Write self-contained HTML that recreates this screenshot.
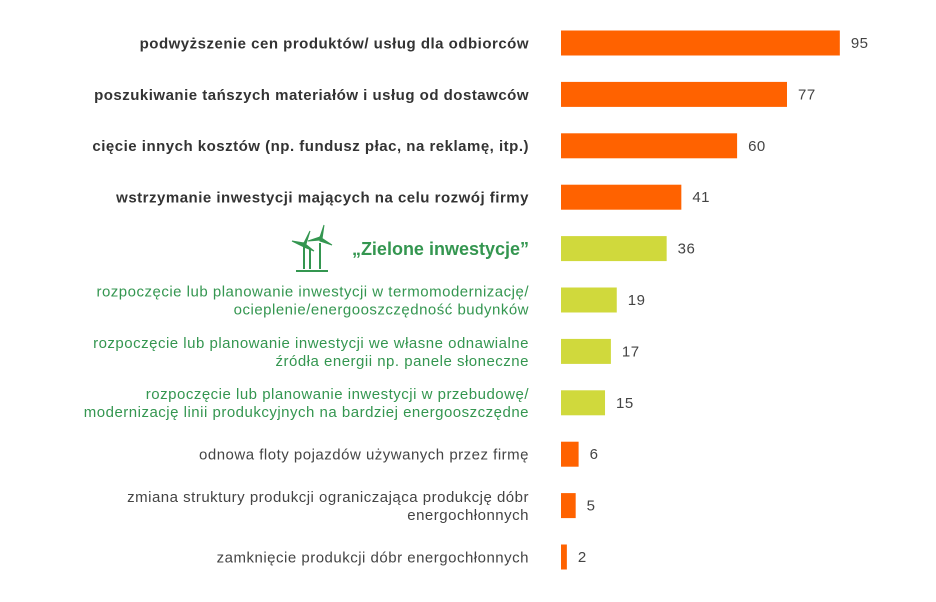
<!DOCTYPE html>
<html><head><meta charset="utf-8"><style>
body{margin:0;background:#fff;width:936px;height:597px;overflow:hidden;font-family:"Liberation Sans",sans-serif}
svg text{font-family:"Liberation Sans",sans-serif}
</style></head><body>
<svg id="chart" width="936" height="597" xmlns="http://www.w3.org/2000/svg">
<g id="icon" transform="translate(312,247)" fill="#349650" stroke="#349650">
<line x1="-8" y1="0" x2="-8" y2="22" stroke-width="2"/><line x1="-2" y1="2" x2="-2" y2="22" stroke-width="2"/><line x1="8" y1="-4" x2="8" y2="22" stroke-width="2"/>
<line x1="-16" y1="24" x2="16" y2="24" stroke-width="2"/>
<path d="M-8 -4 L-20 -6 L-8 0 Z M-8 -4 L-2 -16 L-6 -3 Z M-8 -4 L2 4 L-8 0Z"/>
<path d="M8 -10 L12 -22 L10 -8 Z M8 -10 L20 -2 L8 -6 Z M8 -10 L-4 -6 L8 -7Z"/>
</g>
</svg>
<script>
const categories=["podwyższenie cen produktów/ usług dla odbiorców","poszukiwanie tańszych materiałów i usług od dostawców","cięcie innych kosztów (np. fundusz płac, na reklamę, itp.)","wstrzymanie inwestycji mających na celu rozwój firmy","„Zielone inwestycje”","rozpoczęcie lub planowanie inwestycji w termomodernizację/|ocieplenie/energooszczędność budynków","rozpoczęcie lub planowanie inwestycji we własne odnawialne|źródła energii np. panele słoneczne","rozpoczęcie lub planowanie inwestycji w przebudowę/|modernizację linii produkcyjnych na bardziej energooszczędne","odnowa floty pojazdów używanych przez firmę","zmiana struktury produkcji ograniczająca produkcję dóbr|energochłonnych","zamknięcie produkcji dóbr energochłonnych"];
const values=[95,77,60,41,36,19,17,15,6,5,2];
const groups=["main","main","main","main","green-head","green","green","green","other","other","other"];
const NS="http://www.w3.org/2000/svg",svg=document.getElementById('chart');
const x0=561,k=2.935,y0=43,step=51.4,bh=25;
function xs(v){return v*k;}
function yc(i){return y0+i*step;}
categories.forEach((c,i)=>{
 const g=groups[i],y=yc(i);
 const r=document.createElementNS(NS,'rect');
 
 
 r.setAttribute('x',x0);r.setAttribute('y',y-bh/2);r.setAttribute('width',xs(values[i]));r.setAttribute('height',bh);
 r.setAttribute('fill',g.startsWith('green')?'#D0D93C':'#FF6200');svg.appendChild(r);
 const v=document.createElementNS(NS,'text');
 
 
 v.setAttribute('x',x0+xs(values[i])+11);v.setAttribute('y',y+5);v.setAttribute('font-size','15');v.setAttribute('fill','#444');v.setAttribute('letter-spacing','0.5');
 v.textContent=values[i];svg.appendChild(v);
 const t=document.createElementNS(NS,'text');
 
 
 t.setAttribute('text-anchor','end');
 const lines=c.split('|');
 let fs=15,fill='#444',fw='normal',ls='0.5';
 if(g==='main'){fs=15;fill='#333';fw='bold';}
 if(g==='green-head'){fs=18;fill='#349650';fw='bold';ls='0';}
 if(g==='green'){fill='#349650';}
 t.setAttribute('font-size',fs);t.setAttribute('fill',fill);t.setAttribute('font-weight',fw);t.setAttribute('letter-spacing',ls);
 const lh=18,start=y+fs*0.36-(lines.length-1)*lh/2;
 lines.forEach((l,j)=>{const s=document.createElementNS(NS,'tspan');s.setAttribute('x',529);s.setAttribute('y',start+j*lh);s.textContent=l;t.appendChild(s);});
 svg.appendChild(t);
});
</script>
</body></html>
